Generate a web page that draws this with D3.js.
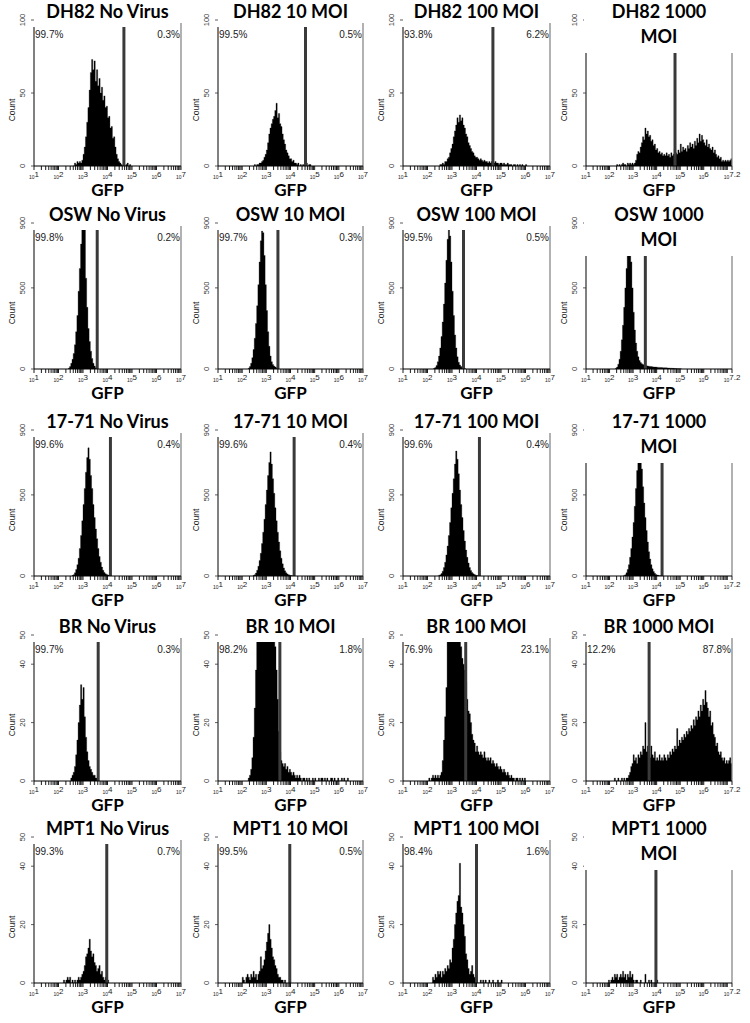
<!DOCTYPE html>
<html>
<head>
<meta charset="utf-8">
<script src="https://cdn.jsdelivr.net/npm/d3@7"></script>
<style>
    body { margin: 0; background: #fff; }
    svg { display: block; }
    .title { font-family: Lato, "Open Sans", sans-serif; font-weight: 700; font-size: 18px; fill: #000; }
    .gfp { font-family: Lato, "Open Sans", sans-serif; font-weight: 700; font-size: 17px; fill: #000; }
    .pct { font-family: "Liberation Sans", Arial, sans-serif; font-size: 10px; fill: #222; }
    .count { font-family: "Liberation Sans", Arial, sans-serif; font-size: 8.5px; fill: #222; }
    .ytick { font-family: "Liberation Sans", Arial, sans-serif; font-size: 7.5px; fill: #333; }
    .xtick { font-family: "Liberation Sans", Arial, sans-serif; fill: #222; }
</style>
</head>
<body>
<div id="chart"></div>
<script>
// Flow cytometry GFP histograms, 5 cell lines x 4 virus doses
const titles = [
    "DH82 No Virus", "DH82 10 MOI", "DH82 100 MOI", "DH82 1000|MOI",
    "OSW No Virus", "OSW 10 MOI", "OSW 100 MOI", "OSW 1000|MOI",
    "17-71 No Virus", "17-71 10 MOI", "17-71 100 MOI", "17-71 1000|MOI",
    "BR No Virus", "BR 10 MOI", "BR 100 MOI", "BR 1000 MOI",
    "MPT1 No Virus", "MPT1 10 MOI", "MPT1 100 MOI", "MPT1 1000|MOI"
];

// y axis per row
const rowYMax = [100, 900, 900, 50, 50];
const rowYTicks = [[0, 50, 100], [0, 500, 900], [0, 500, 900], [0, 20, 40, 50], [0, 20, 40, 50]];

// x axis (log10 GFP) end per column
const colLogMax = [7, 7, 7, 7.2];
const colXLabels = [[1, 2, 3, 4, 5, 6, 7], [1, 2, 3, 4, 5, 6, 7], [1, 2, 3, 4, 5, 6, 7], [1, 2, 3, 4, 5, 6, 7.2]];

// gate position (log10) per panel
const gates = [
    4.67, 4.62, 4.67, 4.78,
    3.58, 3.48, 3.47, 3.52,
    4.12, 4.15, 4.12, 4.23,
    3.62, 3.56, 3.56, 3.68,
    3.97, 3.97, 4.00, 3.97
];

const leftPct = [
    "99.7%", "99.5%", "93.8%", null,
    "99.8%", "99.7%", "99.5%", null,
    "99.6%", "99.6%", "99.6%", null,
    "99.7%", "98.2%", "76.9%", "12.2%",
    "99.3%", "99.5%", "98.4%", null
];
const rightPct = [
    "0.3%", "0.5%", "6.2%", null,
    "0.2%", "0.3%", "0.5%", null,
    "0.4%", "0.4%", "0.4%", null,
    "0.3%", "1.8%", "23.1%", "87.8%",
    "0.7%", "0.5%", "1.6%", null
];

// histogram bins: 0.05 decade wide, first bin starts at histStart
const binWidth = 0.05;
const histStart = [
    2.60, 2.50, 2.50, 2.30,
    2.40, 2.25, 2.25, 2.25,
    2.55, 2.45, 2.45, 2.60,
    2.50, 2.25, 2.05, 2.20,
    2.20, 2.00, 2.20, 1.95
];

const dh82None = [0,2,1,3,2,3,2,4,8,13,20,30,40,52,64,73,66,72,58,66,55,60,50,54,45,48,40,41,33,34,26,27,19,20,13,8,5,3,2,1,0,1,0,1,2,0,1];
const dh82Moi10 = [1,0,1,1,2,2,3,4,6,8,11,16,22,26,29,32,34,38,43,33,36,29,27,22,18,15,11,9,7,5,5,3,4,2,2,1,2,0,1,0,1,0,1,2,0,1,1];
const dh82Moi100 = [1,1,2,1,3,3,5,6,9,12,15,20,24,28,33,30,35,31,33,28,26,22,20,16,14,12,10,9,7,6,6,5,4,5,4,3,4,3,3,2,3,2,3,2,2,3,2,2,1,2,2,1,2,1,1,2,1,1,1,0,1,1,0,1,0,1,0,1,0,0,1];
const dh82Moi1000 = [1,0,1,0,1,2,1,1,0,2,1,2,1,2,1,2,4,8,10,9,13,16,20,18,26,22,24,20,21,17,18,14,15,11,12,9,10,8,9,7,8,7,9,7,8,6,9,7,8,12,9,8,11,9,15,10,13,11,12,10,14,12,16,13,15,12,17,14,19,16,22,17,21,18,16,14,18,13,15,12,11,13,9,11,8,6,7,5,6,3,4,3,4,3,4,3,4,5];

const oswNone = [5,15,35,60,95,150,230,330,480,620,770,880,900,860,560,380,250,170,110,65,35,18,8,3];
const oswMoi10 = [5,15,35,70,120,190,280,390,520,660,790,850,840,700,520,360,230,140,80,45,28,18,12,8,4];
const oswMoi100 = [4,10,22,45,80,130,200,290,400,530,670,800,860,820,660,480,330,210,130,75,42,25,15,10,6,3];
const oswMoi1000 = [5,12,30,60,110,180,270,380,500,620,730,780,760,660,500,350,240,160,110,75,52,40,32,28,24,22,20,18,17,16,15,14,13,12,12,11,10,10,9,9,8,8,7,7,6,6,5,5,4,4,3,3,2,2,1,1];

const s1771None = [3,8,20,40,70,110,170,250,340,440,540,640,730,790,720,620,540,440,360,290,230,170,120,85,55,35,22,14,9,6,4,2];
const s1771Moi10 = [3,8,18,35,60,95,140,200,270,350,440,530,620,700,765,690,600,510,420,340,270,210,155,110,75,50,32,20,13,8,5,3,2];
const s1771Moi100 = [3,7,15,30,52,85,130,185,250,330,420,510,600,690,770,720,630,530,440,360,280,215,160,115,80,52,34,22,14,9,5,3,2];
const s1771Moi1000 = [3,8,20,40,70,115,170,240,330,430,540,650,740,800,760,660,550,450,360,280,210,150,105,70,45,28,17,10,6,4,2,1];

const brNone = [1,2,3,5,9,14,20,26,33,28,32,22,15,10,7,5,4,3,2,2,1,1];
const brMoi10 = [1,2,4,8,15,25,38,50,60,65,70,72,75,78,80,78,75,72,68,62,58,52,46,38,28,17,10,7,6,5,6,4,5,3,4,3,2,3,2,1,2,1,2,1,0,1,1,0,1,0,1,0,0,1,0,1,0,0,1,0,1,1,0,1,0,1,0,0,1,1,0,1,0,0,1,0,0,1,0,1,0,0,1];
const brMoi100 = [1,0,1,2,1,2,1,2,1,2,3,7,14,22,32,48,60,70,80,88,90,86,80,72,64,55,46,42,40,38,34,28,24,23,20,16,14,13,10,12,10,9,10,9,8,10,8,7,8,7,8,6,7,6,5,6,5,4,5,4,3,4,3,2,3,2,1,2,1,1,0,1,1,0,1,0,1,0,1];
const brMoi1000 = [1,0,0,1,0,0,1,0,1,0,1,1,2,3,5,6,9,7,8,6,9,8,10,9,12,11,20,10,12,9,8,12,9,8,10,7,8,7,9,7,8,7,9,8,7,9,8,10,9,11,10,12,11,18,12,14,13,15,14,16,15,17,16,18,17,19,18,21,19,22,21,24,22,26,24,28,26,31,27,25,22,24,19,20,16,15,12,13,10,9,10,8,7,8,6,7,6,7,8,6];

const mptNone = [1,0,1,2,1,2,0,1,0,1,0,1,2,1,2,3,4,6,9,10,12,15,11,9,10,7,6,4,5,6,3,4,2,1,2,1,1];
const mptMoi10 = [2,1,0,2,3,2,1,3,2,4,2,3,1,3,4,9,5,6,8,11,14,17,20,15,12,9,8,6,5,3,2,2,1,1,0,1];
const mptMoi100 = [2,1,3,2,4,3,4,2,4,3,5,4,6,5,8,7,12,15,20,24,28,30,41,26,24,20,16,10,8,5,3,4,6,3,2,1,0,0,0,1,0,1,0,1,0,0,1,0,0,1,0,0,0,1,0,0,1];
const mptMoi1000 = [1,0,1,2,1,3,2,3,1,2,3,2,4,2,3,1,3,2,4,2,3,1,0,1,1,0,0,1,0,0,0,3,0,0,1,0,1,0,0,0,0,1];

const histCounts = [
    dh82None, dh82Moi10, dh82Moi100, dh82Moi1000,
    oswNone, oswMoi10, oswMoi100, oswMoi1000,
    s1771None, s1771Moi10, s1771Moi100, s1771Moi1000,
    brNone, brMoi10, brMoi100, brMoi1000,
    mptNone, mptMoi10, mptMoi100, mptMoi1000
];

// layout
const colX0 = [34, 218, 403, 586];
const colW = [147, 145, 147, 146];
const rowBase = [166, 369, 576, 781, 983];
const yRangePx = 146;
const plotTopPx = 139;
const boxedTopPx = 113;

const svg = d3.select('#chart')
    .append('svg')
    .attr('width', 750)
    .attr('height', 1023);

svg.append('rect').attr('width', 750).attr('height', 1023).attr('fill', '#fff');
const defs = svg.append('defs');

titles.forEach((title, i) => {
    const r = Math.floor(i / 4);
    const c = i % 4;
    const x0 = colX0[c];
    const w = colW[c];
    const base = rowBase[r];
    const logMax = colLogMax[c];
    const plotTop = base - plotTopPx;
    const lines = title.split('|');

    const x = d3.scaleLinear().domain([1, logMax]).range([x0, x0 + w]);
    const y = d3.scaleLinear().domain([0, rowYMax[r]]).range([base, base - yRangePx]);

    const g = svg.append('g');

    defs.append('clipPath').attr('id', `clip${i}`)
        .append('rect')
        .attr('x', x0).attr('y', plotTop)
        .attr('width', w).attr('height', base - plotTop);

    // histogram as one solid step shape
    const bins = histCounts[i].map((v, k) => ({ lo: histStart[i] + k * binWidth, v }));
    bins.push({ lo: histStart[i] + bins.length * binWidth, v: 0 });
    const area = d3.area()
        .curve(d3.curveStepAfter)
        .x(d => x(d.lo))
        .y0(base)
        .y1(d => y(d.v));
    g.append('path')
        .attr('clip-path', `url(#clip${i})`)
        .attr('d', area(bins))
        .attr('fill', '#000')
        .attr('stroke', '#000')
        .attr('stroke-width', 0.3);

    // right border and gate
    g.append('line')
        .attr('x1', x(logMax)).attr('x2', x(logMax))
        .attr('y1', base - 143).attr('y2', base)
        .attr('stroke', '#888').attr('stroke-width', 1.3);

    g.append('line')
        .attr('x1', x(gates[i])).attr('x2', x(gates[i]))
        .attr('y1', plotTop).attr('y2', base)
        .attr('stroke', '#3a3a3a').attr('stroke-width', 3);

    // axes lines
    g.append('line')
        .attr('x1', x0).attr('x2', x0)
        .attr('y1', plotTop).attr('y2', base)
        .attr('stroke', '#000').attr('stroke-width', 1);
    g.append('line')
        .attr('x1', x0).attr('x2', x0 + w)
        .attr('y1', base).attr('y2', base)
        .attr('stroke', '#000').attr('stroke-width', 1);

    // log ticks on x
    const tickVals = [];
    for (let d = 1; d <= Math.floor(logMax); d++) {
        for (let k = 1; k <= 9; k++) {
            const v = d + Math.log10(k);
            if (v <= logMax + 1e-9) tickVals.push(v);
        }
    }
    if (logMax % 1 !== 0) tickVals.push(logMax);
    g.selectAll('.xt').data(tickVals).enter()
        .append('line')
        .attr('x1', d => x(d)).attr('x2', d => x(d))
        .attr('y1', base).attr('y2', base + 4)
        .attr('stroke', '#000').attr('stroke-width', 0.9);

    colXLabels[c].forEach(d => {
        const t = g.append('text')
            .attr('class', 'xtick')
            .attr('x', x(d)).attr('y', base + 12)
            .attr('text-anchor', 'middle');
        t.append('tspan').attr('font-size', 5).attr('dy', 1).text('10');
        t.append('tspan').attr('font-size', 8).attr('dy', -2.5).text(d);
    });

    // y ticks
    rowYTicks[r].forEach(v => {
        g.append('line')
            .attr('x1', x0 - 3).attr('x2', x0)
            .attr('y1', y(v)).attr('y2', y(v))
            .attr('stroke', '#333').attr('stroke-width', 0.8);
        g.append('text')
            .attr('class', 'ytick')
            .attr('transform', `translate(${x0 - 9},${y(v)}) rotate(-90)`)
            .attr('text-anchor', 'middle')
            .text(v);
    });

    g.append('text')
        .attr('class', 'count')
        .attr('transform', `translate(${x0 - 19},${base - 56}) rotate(-90)`)
        .attr('text-anchor', 'middle')
        .text('Count');

    if (leftPct[i]) {
        g.append('text').attr('class', 'pct')
            .attr('x', x0 + 1).attr('y', base - 128)
            .text(leftPct[i]);
        g.append('text').attr('class', 'pct')
            .attr('x', x0 + w - 1).attr('y', base - 128)
            .attr('text-anchor', 'end')
            .text(rightPct[i]);
    }

    g.append('text')
        .attr('class', 'gfp')
        .attr('x', x0 + w / 2).attr('y', base + 30)
        .attr('text-anchor', 'middle')
        .text('GFP');

    // two-line titles sit on a white box over the top of the plot
    if (lines.length > 1) {
        g.append('rect')
            .attr('x', x0 - 2).attr('y', base - 170)
            .attr('width', w + 4).attr('height', 170 - boxedTopPx)
            .attr('fill', '#fff');
    }
    lines.forEach((line, k) => {
        g.append('text')
            .attr('class', 'title')
            .attr('x', x0 + w / 2).attr('y', base - 148 + k * 25)
            .attr('text-anchor', 'middle')
            .text(line);
    });
});
</script>
</body>
</html>
